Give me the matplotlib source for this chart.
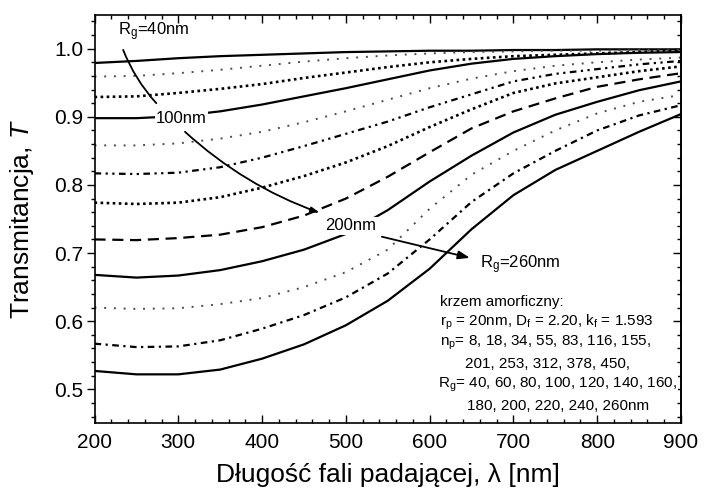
import matplotlib
matplotlib.use("Agg")
import matplotlib.pyplot as plt
from matplotlib.ticker import MultipleLocator

plt.rcParams['font.family'] = ['Liberation Sans', 'DejaVu Sans']
plt.rcParams['mathtext.fontset'] = 'custom'
plt.rcParams['mathtext.rm'] = 'Liberation Sans'
plt.rcParams['mathtext.it'] = 'Liberation Sans:italic'

# wavelength grid [nm]
wavelength = [200, 250, 300, 350, 400, 450, 500, 550, 600, 650, 700, 750, 800, 850, 900]

# transmittance, Rg = 40 ... 260 nm
T_rg40 = [0.979, 0.982, 0.986, 0.989, 0.991, 0.993, 0.995, 0.996, 0.997, 0.997, 0.998, 0.998, 0.999, 0.999, 0.999]
T_rg60 = [0.959, 0.960, 0.964, 0.969, 0.975, 0.981, 0.986, 0.990, 0.993, 0.995, 0.996, 0.997, 0.997, 0.998, 0.998]
T_rg80 = [0.929, 0.930, 0.935, 0.941, 0.948, 0.957, 0.965, 0.973, 0.980, 0.985, 0.989, 0.991, 0.993, 0.995, 0.997]
T_rg100 = [0.898, 0.898, 0.901, 0.908, 0.918, 0.930, 0.942, 0.955, 0.968, 0.978, 0.985, 0.989, 0.992, 0.994, 0.995]
T_rg120 = [0.858, 0.858, 0.861, 0.868, 0.878, 0.892, 0.908, 0.925, 0.942, 0.956, 0.967, 0.975, 0.980, 0.984, 0.987]
T_rg140 = [0.817, 0.816, 0.818, 0.826, 0.840, 0.857, 0.875, 0.893, 0.914, 0.933, 0.952, 0.963, 0.970, 0.977, 0.982]
T_rg160 = [0.774, 0.772, 0.774, 0.782, 0.796, 0.813, 0.833, 0.857, 0.885, 0.911, 0.935, 0.949, 0.958, 0.967, 0.974]
T_rg180 = [0.720, 0.719, 0.722, 0.727, 0.738, 0.755, 0.780, 0.812, 0.848, 0.883, 0.908, 0.927, 0.944, 0.955, 0.964]
T_rg200 = [0.668, 0.664, 0.667, 0.675, 0.688, 0.705, 0.728, 0.763, 0.805, 0.843, 0.877, 0.903, 0.922, 0.939, 0.952]
T_rg220 = [0.620, 0.618, 0.619, 0.625, 0.634, 0.650, 0.672, 0.705, 0.765, 0.815, 0.850, 0.880, 0.905, 0.922, 0.932]
T_rg240 = [0.567, 0.562, 0.563, 0.572, 0.589, 0.609, 0.635, 0.670, 0.720, 0.775, 0.817, 0.850, 0.880, 0.902, 0.917]
T_rg260 = [0.527, 0.522, 0.522, 0.529, 0.545, 0.566, 0.594, 0.630, 0.677, 0.735, 0.785, 0.822, 0.850, 0.878, 0.904]

series = [T_rg40, T_rg60, T_rg80, T_rg100, T_rg120, T_rg140,
          T_rg160, T_rg180, T_rg200, T_rg220, T_rg240, T_rg260]

# line styles: (linestyle, linewidth, colour)
sparse_dot = ((0, (1, 4)), 1.4, '0.3')
dense_dot = ((0, (1, 1.3)), 1.9, 'black')
solid = ('-', 1.6, 'black')
styles = [solid, sparse_dot, dense_dot, solid, sparse_dot,
          ((0, (3, 2, 1, 2, 1, 2)), 1.6, 'black'), dense_dot,
          ((0, (5, 3)), 1.6, 'black'), solid, sparse_dot,
          ((0, (3, 2, 1, 2)), 1.6, 'black'), solid]

fig = plt.figure(figsize=(7.05, 4.91), dpi=100)
ax = fig.add_axes([94.5 / 705, 1 - 423.4 / 491, 586.5 / 705, 408.8 / 491])

for T, (ls, lw, c) in zip(series, styles):
    ax.plot(wavelength, T, linestyle=ls, linewidth=lw, color=c)

ax.set_xlim(200, 900)
ax.set_ylim(0.45, 1.05)
ax.xaxis.set_major_locator(MultipleLocator(100))
ax.xaxis.set_minor_locator(MultipleLocator(20))
ax.yaxis.set_major_locator(MultipleLocator(0.1))
ax.yaxis.set_minor_locator(MultipleLocator(0.02))
ax.yaxis.set_major_formatter(plt.FuncFormatter(lambda v, p: f"{v:.1f}"))

for s in ax.spines.values():
    s.set_linewidth(1.2)
ax.tick_params(axis='y', which='both', direction='out', left=True, right=False,
               labelsize=15, pad=2, width=1)
ax.tick_params(axis='y', which='major', length=6)
ax.tick_params(axis='y', which='minor', length=3)
ax.tick_params(axis='x', which='both', direction='in', bottom=True, top=True,
               labelsize=15, pad=7, width=1)
ax.tick_params(axis='x', which='major', length=6)
ax.tick_params(axis='x', which='minor', length=3)
# inner ticks on the right
ax2 = ax.secondary_yaxis('right')
ax2.yaxis.set_major_locator(MultipleLocator(0.1))
ax2.yaxis.set_minor_locator(MultipleLocator(0.02))
ax2.tick_params(which='both', direction='in', labelright=False, width=1)
ax2.tick_params(which='major', length=6)
ax2.tick_params(which='minor', length=3)
ax2.spines['right'].set_linewidth(1.2)

ax.set_xlabel('Długość fali padającej, λ [nm]', fontsize=19, labelpad=8)
ax.set_ylabel('Transmitancja, $T$', fontsize=19, labelpad=13)

# annotations
ax.text(228, 1.025, r'R$_\mathregular{g}$=40nm', fontsize=12, va='center', ha='left')
ax.annotate('', xy=(276, 0.917), xytext=(233, 1.002),
            arrowprops=dict(arrowstyle='-', color='black', lw=1.3,
                            connectionstyle='arc3,rad=0.1'))
ax.text(304, 0.898, '100nm', fontsize=12, va='center', ha='center',
        bbox=dict(facecolor='white', edgecolor='none', pad=1))
ax.annotate('', xy=(469, 0.759), xytext=(308, 0.878),
            arrowprops=dict(arrowstyle='-|>,head_length=0.5,head_width=0.15', color='black', lw=1.3,
                            connectionstyle='arc3,rad=0.1', shrinkA=0, shrinkB=0))
ax.text(506, 0.740, '200nm', fontsize=12, va='center', ha='center',
        bbox=dict(facecolor='white', edgecolor='none', pad=1))
ax.annotate('', xy=(648, 0.693), xytext=(543, 0.724),
            arrowprops=dict(arrowstyle='-|>,head_length=0.7,head_width=0.25', color='black', lw=1.3,
                            shrinkA=0, shrinkB=0))
ax.text(660, 0.6825, r'R$_\mathregular{g}$=260nm', fontsize=12, va='center', ha='left')

block = [
    (612, 'krzem amorficzny:'),
    (612, r'r$_\mathregular{p}$ = 20nm, D$_\mathregular{f}$ = 2.20, k$_\mathregular{f}$ = 1.593'),
    (612, r'n$_\mathregular{p}$= 8, 18, 34, 55, 83, 116, 155,'),
    (642, '201, 253, 312, 378, 450,'),
    (610, r'R$_\mathregular{g}$= 40, 60, 80, 100, 120, 140, 160,'),
    (645, '180, 200, 220, 240, 260nm'),
]
y0 = 0.6286
for i, (xs, line) in enumerate(block):
    ax.text(xs, y0 - i * 0.0305, line, fontsize=11, va='center', ha='left',
            bbox=dict(facecolor='white', edgecolor='none', pad=0.5))

fig.savefig('out.png', dpi=100)
